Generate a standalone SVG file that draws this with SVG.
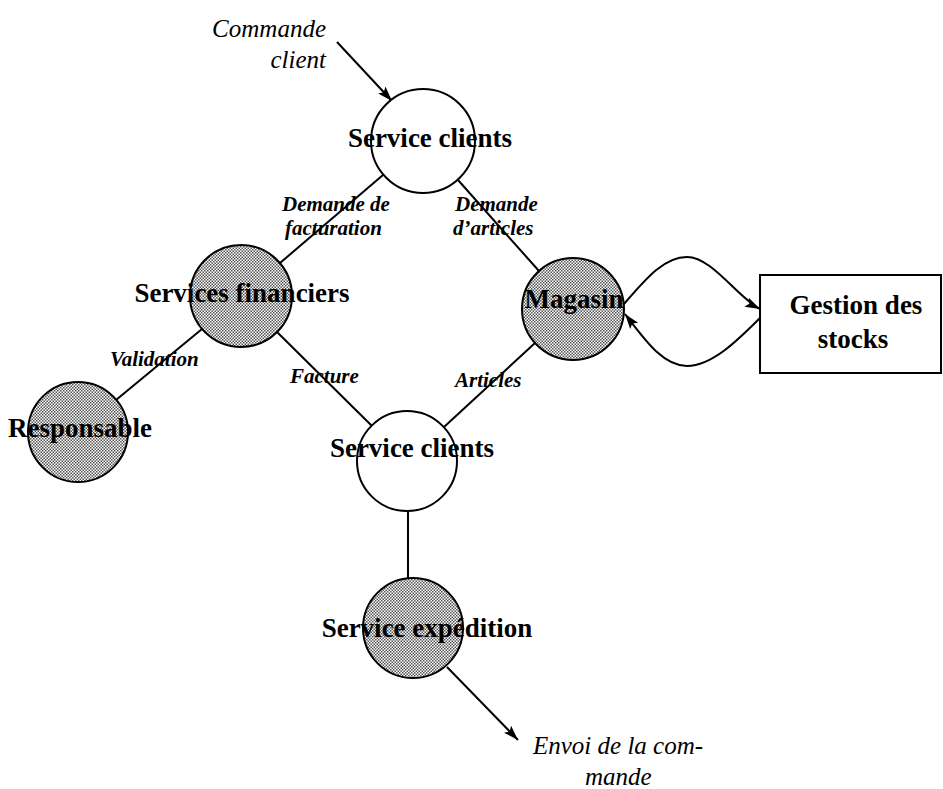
<svg xmlns="http://www.w3.org/2000/svg" width="943" height="789" viewBox="0 0 943 789">
<defs>
<pattern id="dots" width="3" height="3" patternUnits="userSpaceOnUse">
<rect width="3" height="3" fill="#ffffff"/>
<rect x="0" y="0" width="1.5" height="1.5" fill="#555"/>
<rect x="1.5" y="1.5" width="1.5" height="1.5" fill="#555"/>
</pattern>
<marker id="arr" markerUnits="userSpaceOnUse" markerWidth="16" markerHeight="12" refX="15" refY="6" orient="auto">
<path d="M0,1 L15,6 L0,11 L3,6 Z" fill="#000"/>
</marker>
</defs>
<style>
.c{stroke:#000;stroke-width:2;}
.w{fill:#fff;}
.h{fill:url(#dots);}
.ln{stroke:#000;stroke-width:2;fill:none;}
.n{font-family:"Liberation Serif","Times New Roman",serif;font-weight:bold;font-size:27px;text-anchor:middle;fill:#000;}
.l{font-family:"Liberation Serif","Times New Roman",serif;font-weight:bold;font-style:italic;font-size:21px;fill:#000;}
.o{font-family:"Liberation Serif","Times New Roman",serif;font-style:italic;font-size:25px;fill:#000;}
</style>
<rect width="943" height="789" fill="#fff"/>

<g id="connectors">
<line class="ln" x1="337" y1="42" x2="392" y2="101" marker-end="url(#arr)"/>
<line class="ln" x1="383" y1="175" x2="280" y2="263"/>
<line class="ln" x1="458" y1="180" x2="539" y2="271"/>
<line class="ln" x1="202" y1="329" x2="116" y2="400"/>
<line class="ln" x1="277" y1="332" x2="372" y2="426"/>
<line class="ln" x1="535" y1="343" x2="444" y2="427"/>
<line class="ln" x1="408" y1="511" x2="408" y2="578"/>
<line class="ln" x1="447" y1="667" x2="518" y2="740" marker-end="url(#arr)"/>
<path class="ln" d="M624,304 C648,276 665,257 687,257 C712,257 738,298 760,309" marker-end="url(#arr)"/>
<path class="ln" d="M760,318 C738,340 712,366 687,366 C663,366 645,340 625,314" marker-end="url(#arr)"/>
<text class="o" x="326" y="37" text-anchor="end">Commande</text>
<text class="o" x="326" y="68" text-anchor="end">client</text>
<text class="l" x="282" y="211">Demande de</text>
<text class="l" x="285" y="235">facturation</text>
<text class="l" x="455" y="211">Demande</text>
<text class="l" x="453" y="235">d’articles</text>
<text class="l" x="110" y="366">Validation</text>
<text class="l" x="290" y="383">Facture</text>
<text class="l" x="455" y="387">Articles</text>
<text class="o" x="533" y="754">Envoi de la com-</text>
<text class="o" x="585" y="785">mande</text>
</g>

<g id="service-clients-1">
<circle class="c w" cx="423" cy="141" r="52"/>
<text class="n" x="430" y="147">Service clients</text>
</g>
<g id="services-financiers">
<circle class="c h" cx="241" cy="296" r="51"/>
<text class="n" x="242" y="302">Services financiers</text>
</g>
<g id="magasin">
<circle class="c h" cx="573" cy="309" r="51"/>
<text class="n" x="574" y="308">Magasin</text>
</g>
<g id="gestion-stocks">
<rect class="c w" x="760" y="275" width="181" height="98"/>
<text class="n" x="856" y="314">Gestion des</text>
<text class="n" x="853" y="348">stocks</text>
</g>
<g id="responsable">
<circle class="c h" cx="78" cy="432" r="50"/>
<text class="n" x="80" y="437">Responsable</text>
</g>
<g id="service-clients-2">
<circle class="c w" cx="407" cy="461" r="50"/>
<text class="n" x="412" y="457">Service clients</text>
</g>
<g id="service-expedition">
<circle class="c h" cx="413" cy="628" r="50"/>
<text class="n" x="427" y="637">Service expédition</text>
</g>
</svg>
